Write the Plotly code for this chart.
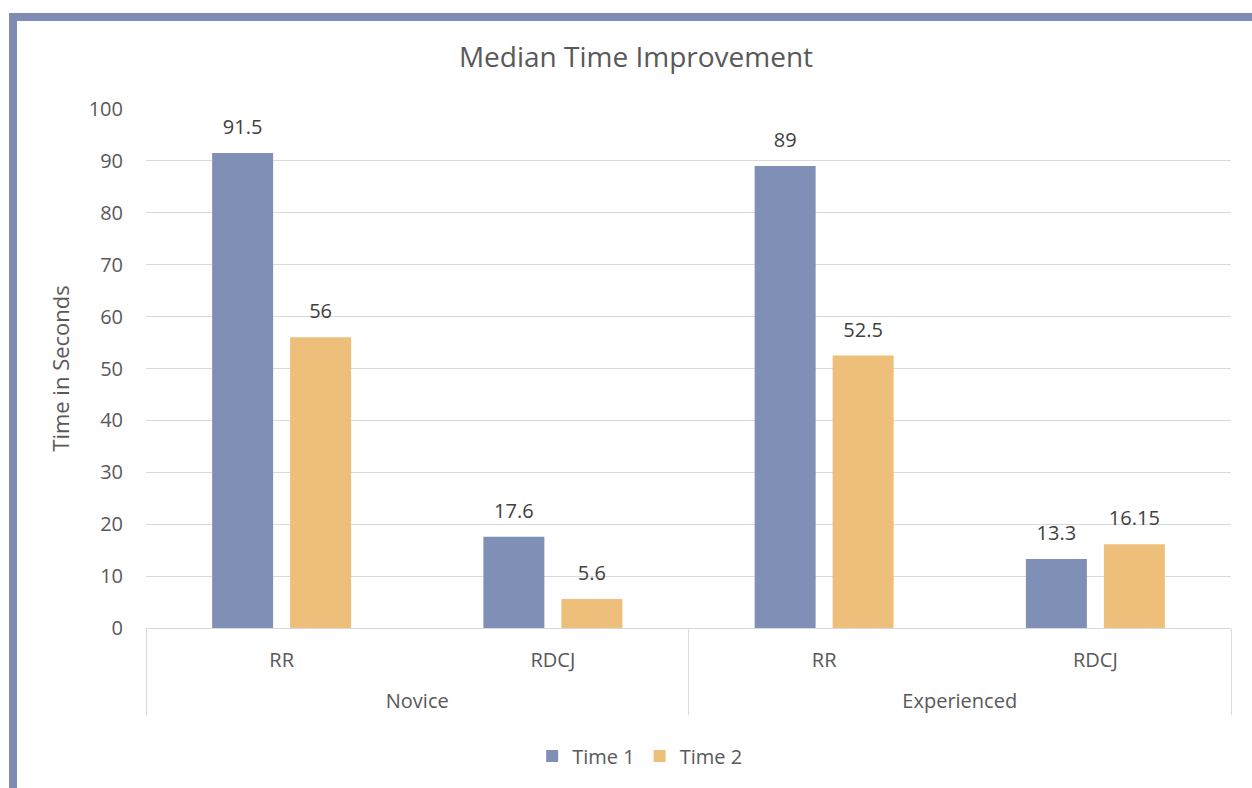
import plotly.graph_objects as go

# ---- data ----
groups = ["Novice", "Novice", "Experienced", "Experienced"]
methods = ["RR", "RDCJ", "RR", "RDCJ"]
time1 = [91.5, 17.6, 89, 13.3]
time2 = [56, 5.6, 52.5, 16.15]
series_names = ["Time 1", "Time 2"]
y_ticks = [0, 10, 20, 30, 40, 50, 60, 70, 80, 90, 100]

# ---- style ----
W, H = 1252, 788
ML, MR, MT, MB = 146, 21, 109, 160
TEXT = "#595959"
FONT = "Open Sans"
C1, C2 = "#7F8FB5", "#EEBF7A"
FRAME = "#7E8CB5"

def px_x(p):
    return (p - ML) / (W - ML - MR)

def px_y(p):
    return (H - MB - p) / (H - MT - MB)

# extra blank line under the first-level labels to space the two label rows
method_labels = [m + "<br>&nbsp;" for m in methods]
label_tpl = "<span style='font-size:20px'>%{y}</span><br>&nbsp;"

fig = go.Figure()
for name, vals, col in [(series_names[0], time1, C1), (series_names[1], time2, C2)]:
    fig.add_trace(go.Bar(
        name=name,
        x=[groups, method_labels],
        y=vals,
        marker=dict(color=col, line=dict(width=0)),
        texttemplate=label_tpl,
        textposition="outside",
        textfont=dict(family=FONT, size=10, color="#404040"),
        constraintext="none",
        cliponaxis=False,
        hoverinfo="skip",
    ))

fig.update_layout(
    width=W, height=H,
    margin=dict(l=ML, r=MR, t=MT, b=MB, autoexpand=False),
    paper_bgcolor="white", plot_bgcolor="white",
    barmode="group", bargap=0.425, bargroupgap=0.218,
    font=dict(family=FONT, color=TEXT, size=20),
    title=dict(text="Median Time Improvement", x=636 / W, xref="container",
               xanchor="center", y=1 - 57 / H, yanchor="middle",
               font=dict(size=28, color=TEXT, family=FONT)),
    legend=dict(orientation="h", x=0.455, xanchor="center", y=px_y(756),
                yanchor="middle", font=dict(size=20, color=TEXT),
                itemsizing="constant", traceorder="normal"),
    showlegend=True,
)

fig.update_yaxes(
    range=[0, 100], tickvals=y_ticks, showgrid=True, gridcolor="#D9D9D9",
    gridwidth=1, zeroline=False, showline=False, ticks="",
    ticklabelstandoff=22, tickfont=dict(size=20, color=TEXT),
    title=dict(text="Time in Seconds", font=dict(size=22, color=TEXT), standoff=12),
)
fig.update_xaxes(
    type="multicategory", showline=True, linecolor="#D9D9D9", linewidth=1,
    showdividers=True, dividercolor="#D9D9D9", dividerwidth=1,
    ticks="", ticklabelstandoff=14, tickfont=dict(size=20, color=TEXT),
)

# frame (top and left border)
fig.add_shape(type="rect", xref="paper", yref="paper",
              x0=px_x(9), x1=px_x(W + 5), y0=px_y(21), y1=px_y(13),
              fillcolor=FRAME, line=dict(width=0), layer="above")
fig.add_shape(type="rect", xref="paper", yref="paper",
              x0=px_x(9), x1=px_x(17), y0=px_y(H + 5), y1=px_y(13),
              fillcolor=FRAME, line=dict(width=0), layer="above")

fig.write_html("out.html")
